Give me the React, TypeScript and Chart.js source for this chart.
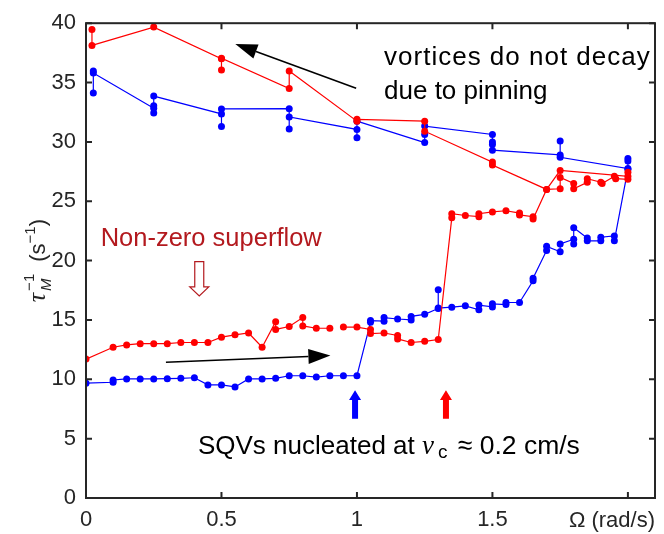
import React, { useEffect, useRef } from 'react';
import { Chart, registerables } from 'chart.js';

Chart.register(...registerables);

// Red series (lower branch increasing Ω, then upper branch decreasing Ω)
const redX = [
  0, 0.1, 0.15, 0.2, 0.25, 0.3, 0.35, 0.4, 0.45, 0.5, 0.55, 0.6, 0.65, 0.7, 0.7, 0.75, 0.8, 0.8, 0.85, 0.9,
  0.925, 0.95, 1.0, 1.05, 1.05, 1.1, 1.15, 1.15, 1.2, 1.25, 1.3,
  1.35, 1.35, 1.4, 1.45, 1.45, 1.5, 1.55, 1.6, 1.6, 1.65, 1.65,
  1.7, 1.75, 1.75, 1.8, 1.8, 1.85, 1.85, 1.9, 1.905, 1.95, 1.955, 2.0, 2.0, 2.0,
  1.75, 1.7, 1.5, 1.5, 1.25, 1.25, 1.0, 1.0, 0.75, 0.75, 0.5, 0.5, 0.5, 0.25, 0.022, 0.022,
];
const redY = [
  11.7, 12.7, 12.9, 13.0, 13.0, 13.0, 13.1, 13.1, 13.1, 13.55, 13.75, 13.9, 12.7, 14.85, 14.2, 14.45, 15.2, 14.5, 14.3, 14.3,
  null, 14.4, 14.4, 14.2, 13.85, 13.9, 13.7, 13.4, 13.1, 13.2, 13.35,
  23.6, 23.95, 23.8, 23.7, 23.95, 24.1, 24.2, 24.0, 23.85, 23.7, 23.5,
  26.0, 26.05, 27.0, 26.5, 26.05, 26.6, 26.9, 26.6, 26.5, 27.1, 26.9, 26.85, 27.45, 27.1,
  27.6, 26.0, 28.05, 28.3, 30.9, 31.75, 31.9, 31.75, 35.97, 34.5, 37.05, 36.05, 37.0, 39.67, 38.13, 39.47,
];

// Blue series
const blueX = [
  0, 0.1, 0.1, 0.15, 0.2, 0.25, 0.3, 0.35, 0.4, 0.45, 0.5, 0.55, 0.6, 0.65, 0.7, 0.75, 0.8, 0.85, 0.9, 0.95, 1.0,
  1.05, 1.05, 1.1, 1.1, 1.15, 1.2, 1.2, 1.25, 1.3, 1.3, 1.3, 1.35, 1.4, 1.45, 1.45, 1.5, 1.5, 1.55, 1.55, 1.6,
  1.65, 1.65, 1.7, 1.7, 1.75, 1.75, 1.8, 1.8, 1.8, 1.85, 1.85, 1.9, 1.9, 1.95, 1.95,
  2.0, 2.0, 2.0, 2.0,
  1.75, 1.75, 1.75, 1.5, 1.5, 1.5, 1.5, 1.25, 1.25, 1.25, 1.0, 1.0, 1.0, 0.75, 0.75, 0.75,
  0.5, 0.5, 0.5, 0.25, 0.25, 0.25, 0.25, 0.027, 0.027, 0.027,
];
const blueY = [
  9.67, 9.75, 9.94, 10.03, 10.03, 10.03, 10.05, 10.08, 10.13, 9.53, 9.53, 9.36, 10.03, 10.03, 10.08, 10.3, 10.3, 10.19, 10.3, 10.3, 10.3,
  14.8, 14.95, 14.9, 15.2, 15.08, 15.0, 15.3, 15.47, 15.97, 17.55, 16.0, 16.08, 16.19, 15.86, 16.25, 16.1, 16.36, 16.3, 16.47, 16.47,
  18.3, 18.52, 20.86, 21.2, 20.75, 21.4, 21.8, 21.4, 22.77, 21.9, 21.67, 21.67, 21.97, 22.08, 21.67,
  27.7, 28.6, 28.4, 27.75,
  28.7, 30.08, 28.9, 29.3, 29.78, 30.0, 30.63, 31.33, 30.63, 29.94, 31.75, 30.36, 31.05, 32.1, 31.08, 32.8,
  32.78, 31.3, 32.36, 33.86, 33.05, 32.44, 32.83, 35.8, 34.13, 35.97,
];

const xTickLabels: Record<string, string> = { '0': '0', '0.5': '0.5', '1': '1', '1.5': '1.5', '2': '' };
const yTickStep = 5;

const SANS = '"Liberation Sans", Arial, Helvetica, sans-serif';
const SERIF = '"Liberation Serif", "Times New Roman", serif';
const AXIS_COLOR = '#262626';
const DARK_RED = '#b3191e';

type Run = { t: string; f: string; dy?: number; gap?: number };

function drawRuns(ctx: CanvasRenderingContext2D, x0: number, yb: number, runs: Run[]) {
  let cx = x0;
  for (const r of runs) {
    ctx.font = r.f;
    ctx.fillText(r.t, cx, yb + (r.dy || 0));
    cx += ctx.measureText(r.t).width + (r.gap || 0);
  }
}

function arrow(ctx: CanvasRenderingContext2D, x1: number, y1: number, x2: number, y2: number, headLen: number, headHalf: number) {
  const ang = Math.atan2(y2 - y1, x2 - x1);
  const bx = x2 - headLen * Math.cos(ang), by = y2 - headLen * Math.sin(ang);
  ctx.beginPath();
  ctx.moveTo(x1, y1);
  ctx.lineTo(bx, by);
  ctx.stroke();
  ctx.beginPath();
  ctx.moveTo(x2, y2);
  ctx.lineTo(bx + headHalf * Math.sin(ang), by - headHalf * Math.cos(ang));
  ctx.lineTo(bx - headHalf * Math.sin(ang), by + headHalf * Math.cos(ang));
  ctx.closePath();
  ctx.fill();
}

const annotPlugin = {
  id: 'annot',
  afterDraw(chart: any) {
    const { ctx, chartArea: a, scales } = chart;
    const xs = scales.x, ys = scales.y;
    const X = (v: number) => xs.getPixelForValue(v);
    const Y = (v: number) => ys.getPixelForValue(v);
    ctx.save();

    // frame with inward ticks on all four sides
    ctx.strokeStyle = AXIS_COLOR;
    ctx.lineWidth = 2;
    ctx.strokeRect(a.left, a.top, a.right - a.left, a.bottom - a.top);
    ctx.beginPath();
    xs.ticks.forEach((t: any) => {
      const px = X(t.value);
      ctx.moveTo(px, a.bottom); ctx.lineTo(px, a.bottom - 6);
      ctx.moveTo(px, a.top); ctx.lineTo(px, a.top + 6);
    });
    ys.ticks.forEach((t: any) => {
      const py = Y(t.value);
      ctx.moveTo(a.left, py); ctx.lineTo(a.left + 6, py);
      ctx.moveTo(a.right, py); ctx.lineTo(a.right - 6, py);
    });
    ctx.stroke();

    // x axis title at right end, on the tick-label line
    ctx.fillStyle = AXIS_COLOR;
    ctx.font = `22px ${SANS}`;
    ctx.textAlign = 'right';
    ctx.textBaseline = 'alphabetic';
    ctx.fillText('Ω (rad/s)', a.right, a.bottom + 29);

    // y axis title (rotated)
    ctx.save();
    ctx.translate(45, (a.top + a.bottom) / 2);
    ctx.rotate(-Math.PI / 2);
    ctx.textAlign = 'left';
    const tauF = `italic 26px ${SERIF}`;
    const scrF = `15px ${SANS}`;
    const scrIF = `italic 15px ${SANS}`;
    const mainF = `22px ${SANS}`;
    ctx.font = tauF; const wTau = ctx.measureText('τ').width;
    ctx.font = scrF; const wSup = ctx.measureText('−1').width;
    ctx.font = mainF; const wP = ctx.measureText('(s').width + ctx.measureText(')').width;
    const total = wTau + 2 + wSup + 12 + wP + wSup;
    let cx = -total / 2;
    ctx.font = tauF; ctx.fillText('τ', cx, 0); cx += wTau + 2;
    ctx.font = scrF; ctx.fillText('−1', cx, -11);
    ctx.font = scrIF; ctx.fillText('M', cx, 6);
    cx += wSup + 12;
    drawRuns(ctx, cx, 0, [
      { t: '(s', f: mainF },
      { t: '−1', f: scrF, dy: -10 },
      { t: ')', f: mainF },
    ]);
    ctx.restore();

    // annotations
    const AF = `26px ${SANS}`;
    ctx.textAlign = 'left';
    ctx.fillStyle = '#000';
    ctx.font = AF;
    (ctx as any).letterSpacing = '1px';
    ctx.fillText('vortices do not decay', X(1.1), Y(36.44));
    (ctx as any).letterSpacing = '0px';
    ctx.fillText('due to pinning', X(1.1), Y(33.61));

    ctx.fillStyle = DARK_RED;
    ctx.font = `25.5px ${SANS}`;
    ctx.fillText('Non-zero superflow', X(0.054), Y(21.27));

    // SQV line: anchored at the italic v
    ctx.fillStyle = '#000';
    const vx = X(1.240), vy = Y(3.69);
    ctx.font = AF;
    ctx.textAlign = 'right';
    ctx.fillText('SQVs nucleated at ', vx, vy);
    ctx.textAlign = 'left';
    drawRuns(ctx, vx, vy, [
      { t: 'v', f: `italic 27px ${SERIF}`, gap: 4 },
      { t: 'c', f: `19px ${SANS}`, dy: 4, gap: 3 },
      { t: ' ≈ 0.2 cm/s', f: `26.5px ${SANS}` },
    ]);

    // black arrows
    ctx.strokeStyle = '#000';
    ctx.fillStyle = '#000';
    ctx.lineWidth = 1.6;
    arrow(ctx, X(0.997), Y(34.53), X(0.551), Y(38.25), 22, 7.5);
    arrow(ctx, X(0.295), Y(11.44), X(0.902), Y(12.0), 22, 7.5);

    // hollow dark-red down arrow
    const hx = X(0.418), top = Y(19.92), tip = Y(17.03);
    const shaftBot = tip - 9;
    ctx.strokeStyle = DARK_RED;
    ctx.lineWidth = 1.2;
    ctx.beginPath();
    ctx.moveTo(hx - 4.5, top);
    ctx.lineTo(hx + 4.5, top);
    ctx.lineTo(hx + 4.5, shaftBot);
    ctx.lineTo(hx + 9.5, shaftBot);
    ctx.lineTo(hx, tip);
    ctx.lineTo(hx - 9.5, shaftBot);
    ctx.lineTo(hx - 4.5, shaftBot);
    ctx.closePath();
    ctx.stroke();

    // filled up arrows
    const upArrow = (cxv: number, color: string) => {
      const cxp = X(cxv), t = Y(9.08), hb = Y(8.25), sb = Y(6.67);
      ctx.fillStyle = color;
      ctx.beginPath();
      ctx.moveTo(cxp, t);
      ctx.lineTo(cxp + 6, hb);
      ctx.lineTo(cxp + 3, hb);
      ctx.lineTo(cxp + 3, sb);
      ctx.lineTo(cxp - 3, sb);
      ctx.lineTo(cxp - 3, hb);
      ctx.lineTo(cxp - 6, hb);
      ctx.closePath();
      ctx.fill();
    };
    upArrow(0.993, '#0000ff');
    upArrow(1.3285, '#ff0000');

    ctx.restore();
  },
};

export default function App() {
  const ref = useRef<HTMLCanvasElement | null>(null);
  useEffect(() => {
    document.body.style.margin = '0';
    const canvas = ref.current;
    if (!canvas) return;
    const red = redX.map((x, i) => ({ x, y: redY[i] }));
    const blue = blueX.map((x, i) => ({ x, y: blueY[i] }));
    const chart = new Chart(canvas, {
      type: 'line',
      data: {
        datasets: [
          {
            data: red as any,
            borderColor: '#ff0000',
            backgroundColor: '#ff0000',
            borderWidth: 1.2,
            pointRadius: 3.5,
            pointBorderWidth: 0,
            spanGaps: false,
            tension: 0,
          },
          {
            data: blue as any,
            borderColor: '#0000ff',
            backgroundColor: '#0000ff',
            borderWidth: 1.2,
            pointRadius: 3.5,
            pointBorderWidth: 0,
            spanGaps: false,
            tension: 0,
          },
        ],
      },
      options: {
        animation: false,
        responsive: true,
        maintainAspectRatio: false,
        events: [],
        layout: { padding: { top: 18, right: 9, left: 0, bottom: 0 }, autoPadding: false },
        plugins: { legend: { display: false }, tooltip: { enabled: false }, title: { display: false } },
        scales: {
          x: {
            type: 'linear',
            min: 0,
            max: 2.1,
            grid: { display: false, drawTicks: false },
            border: { display: false },
            ticks: {
              stepSize: 0.5,
              includeBounds: false,
              autoSkip: false,
              maxRotation: 0,
              padding: 9,
              color: AXIS_COLOR,
              font: { family: SANS, size: 22 },
              callback: (v: any) => xTickLabels[String(v)] ?? '',
            },
            afterFit: (s: any) => { s.height = 36; },
          },
          y: {
            type: 'linear',
            min: 0,
            max: 40,
            grid: { display: false, drawTicks: false },
            border: { display: false },
            ticks: {
              stepSize: yTickStep,
              padding: 10,
              color: AXIS_COLOR,
              font: { family: SANS, size: 22 },
            },
            afterFit: (s: any) => { s.width = 86; },
          },
        },
      },
      plugins: [annotPlugin],
    });
    return () => chart.destroy();
  }, []);
  return (
    <div style={{ position: 'fixed', left: 0, top: 0, width: 664, height: 534, background: '#fff' }}>
      <canvas ref={ref} />
    </div>
  );
}
